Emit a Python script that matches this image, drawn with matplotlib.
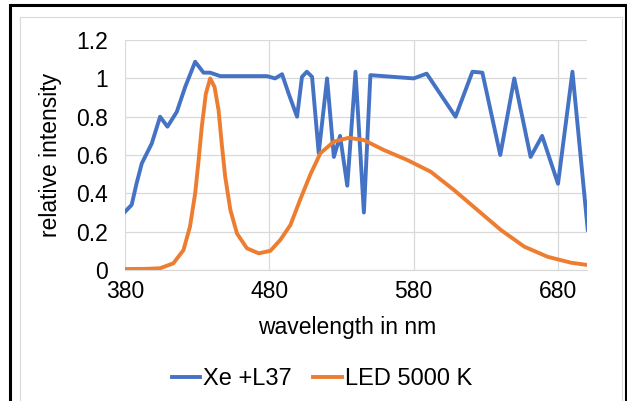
import matplotlib.pyplot as plt
from matplotlib.patches import Rectangle

plt.rcParams['font.family'] = ['Liberation Sans', 'DejaVu Sans']

# Xe + L37 spectrum
xe_nm = [380, 384.6, 388, 391.6, 398.5, 404.3, 409.4, 415.9, 421.7, 428.6, 434.4, 439, 446, 478.4,
         484, 488.8, 493.4, 499.2, 502.6, 506, 509.6, 514.2, 520, 524.7, 529, 534, 539.7, 545.5,
         550, 553.6, 580, 589, 609, 620.7, 627.6, 640, 649.7, 661, 669, 680, 690, 700.6]
xe_val = [0.304, 0.34, 0.452, 0.556, 0.66, 0.80, 0.748, 0.826, 0.956, 1.087, 1.03, 1.03, 1.012, 1.012,
          1.0, 1.022, 0.92, 0.80, 1.008, 1.035, 1.008, 0.61, 1.0, 0.59, 0.70, 0.44, 1.035, 0.30,
          1.017, 1.015, 1.0, 1.025, 0.80, 1.035, 1.03, 0.60, 1.0, 0.59, 0.70, 0.45, 1.035, 0.21]

# LED 5000 K spectrum
led_nm = [380, 395, 404.3, 413.5, 420.5, 425, 428.6, 431, 433.2, 436, 439, 442, 444.8, 447, 449.4,
          453, 457.6, 464.5, 472.6, 480.7, 487.6, 494.6, 501.5, 508.5, 515.4, 524.7, 535, 545.5,
          559.4, 575.6, 591.8, 608, 624.2, 640.4, 656.6, 672.8, 689, 700.6]
led_val = [0.005, 0.006, 0.009, 0.035, 0.104, 0.226, 0.40, 0.574, 0.748, 0.92, 1.0, 0.956, 0.835,
           0.66, 0.487, 0.313, 0.19, 0.113, 0.087, 0.10, 0.157, 0.235, 0.37, 0.50, 0.61, 0.67, 0.69,
           0.678, 0.626, 0.574, 0.513, 0.417, 0.313, 0.209, 0.122, 0.069, 0.038, 0.026]

x_ticks = [380, 480, 580, 680]
y_ticks = [0, 0.2, 0.4, 0.6, 0.8, 1.0, 1.2]
y_labels = ['0', '0.2', '0.4', '0.6', '0.8', '1', '1.2']

fig = plt.figure(figsize=(6.27, 4.01), dpi=100)
ax = fig.add_axes([0.1994, 0.3267, 0.7366, 0.5733])

# frames around the chart
fig.patches.append(Rectangle((20 / 627, -0.01), 602 / 627, 1 - 17 / 401 + 0.01,
                             transform=fig.transFigure, fill=False, edgecolor='#d9d9d9', linewidth=0.8))
fig.patches.append(Rectangle((10 / 627, -0.01), 616 / 627, 1 - 5 / 401 + 0.01,
                             transform=fig.transFigure, fill=False, edgecolor='black', linewidth=2.2))

ax.plot(xe_nm, xe_val, color='#4472C4', linewidth=2.8, label='Xe +L37', solid_joinstyle='round')
ax.plot(led_nm, led_val, color='#ED7D31', linewidth=2.8, label='LED 5000 K', solid_joinstyle='round')

ax.set_xlim(380, 700)
ax.set_ylim(0, 1.2)
ax.set_xticks(x_ticks)
ax.set_yticks(y_ticks)
ax.set_yticklabels(y_labels)
ax.grid(True, color='#d9d9d9', linewidth=0.9)
ax.set_axisbelow(True)
for s in ['top', 'right', 'left']:
    ax.spines[s].set_visible(False)
ax.spines['bottom'].set_color('#d9d9d9')
ax.tick_params(length=0, labelsize=16.5, pad=7)
ax.tick_params(axis='y', pad=12)

ax.set_xlabel('wavelength in nm', fontsize=16.5)
ax.set_ylabel('relative intensity', fontsize=16.5)
ax.xaxis.set_label_coords((347 - 125) / 462, -(328 - 270) / 230, transform=ax.transAxes)
ax.yaxis.set_label_coords(-(125 - 50) / 462, 0.5, transform=ax.transAxes)
ax.xaxis.label.set_va('center')
ax.yaxis.label.set_va('center')

fig.legend(loc='center', bbox_to_anchor=(322 / 627, 1 - 379 / 401), ncol=2, frameon=False,
           fontsize=17, handlelength=1.2, handletextpad=0.15, columnspacing=0.9)

fig.savefig('out.png', dpi=100)
